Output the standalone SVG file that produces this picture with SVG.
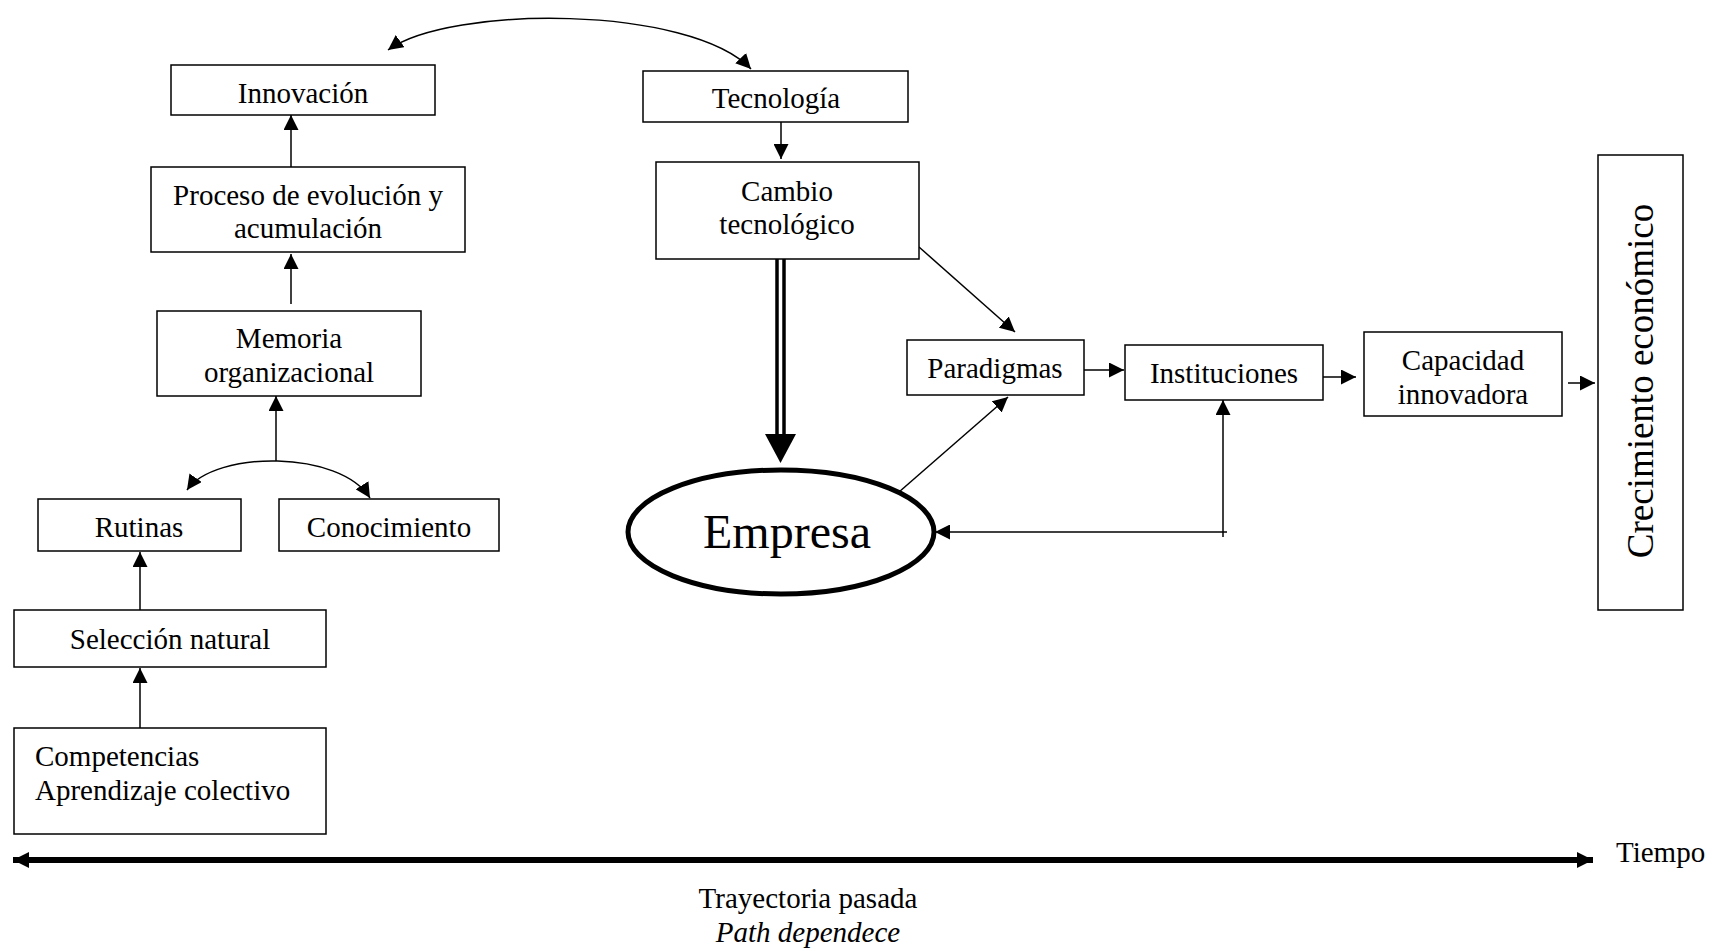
<svg xmlns="http://www.w3.org/2000/svg" width="1727" height="951" viewBox="0 0 1727 951">
<defs>
<style>
.box{fill:#fff;stroke:#000;stroke-width:1.5}
.t{font-family:"Liberation Serif","Times New Roman",serif;font-size:29px;fill:#000;text-anchor:middle}
.ln{fill:none;stroke:#000;stroke-width:1.5}
</style>
<marker id="ah" viewBox="0 0 10 10" refX="10" refY="5" markerWidth="15" markerHeight="15" markerUnits="userSpaceOnUse" orient="auto-start-reverse"><path d="M0,0 L10,5 L0,10 z" fill="#000"/></marker>
<marker id="ahT" viewBox="0 0 10 10" refX="10" refY="5" markerWidth="17" markerHeight="16" markerUnits="userSpaceOnUse" orient="auto-start-reverse"><path d="M0,0 L10,5 L0,10 z" fill="#000"/></marker>
</defs>
<rect width="1727" height="951" fill="#fff"/>

<g id="connectors">
<path class="ln" d="M388,50 C450,5 690,5 751,69" marker-start="url(#ah)" marker-end="url(#ah)"/>
<line class="ln" x1="291" y1="167" x2="291" y2="115" marker-end="url(#ah)"/>
<line class="ln" x1="291" y1="304" x2="291" y2="254" marker-end="url(#ah)"/>
<line class="ln" x1="276" y1="461" x2="276" y2="396" marker-end="url(#ah)"/>
<path class="ln" d="M187,490 C215,450 340,450 370,498" marker-start="url(#ah)" marker-end="url(#ah)"/>
<line class="ln" x1="140" y1="610" x2="140" y2="552" marker-end="url(#ah)"/>
<line class="ln" x1="140" y1="728" x2="140" y2="668" marker-end="url(#ah)"/>
<line class="ln" x1="781" y1="122" x2="781" y2="159" marker-end="url(#ah)"/>
<line x1="777" y1="259" x2="777" y2="437" stroke="#000" stroke-width="3.5"/>
<line x1="784" y1="259" x2="784" y2="437" stroke="#000" stroke-width="3.5"/>
<polygon points="765,434 796,434 780.5,463" fill="#000"/>
<line class="ln" x1="919" y1="247" x2="1015" y2="332" marker-end="url(#ah)"/>
<line class="ln" x1="899" y1="492" x2="1008" y2="397" marker-end="url(#ah)"/>
<line class="ln" x1="1084" y1="370" x2="1124" y2="370" marker-end="url(#ah)"/>
<line class="ln" x1="1223" y1="537" x2="1223" y2="400" marker-end="url(#ah)"/>
<line class="ln" x1="1227" y1="532" x2="935" y2="532" marker-end="url(#ah)"/>
<line class="ln" x1="1323" y1="377" x2="1356" y2="377" marker-end="url(#ah)"/>
<line class="ln" x1="1568" y1="383" x2="1595" y2="383" marker-end="url(#ah)"/>
<line x1="13" y1="860" x2="1593" y2="860" stroke="#000" stroke-width="6" marker-start="url(#ahT)" marker-end="url(#ahT)"/>
</g>

<g id="innovacion"><rect class="box" x="171" y="65" width="264" height="50"/><text class="t" x="303" y="103">Innovación</text></g>
<g id="proceso"><rect class="box" x="151" y="167" width="314" height="85"/><text class="t" x="308" y="205">Proceso de evolución y</text><text class="t" x="308" y="238">acumulación</text></g>
<g id="memoria"><rect class="box" x="157" y="311" width="264" height="85"/><text class="t" x="289" y="348">Memoria</text><text class="t" x="289" y="382">organizacional</text></g>
<g id="rutinas"><rect class="box" x="38" y="499" width="203" height="52"/><text class="t" x="139" y="537">Rutinas</text></g>
<g id="conocimiento"><rect class="box" x="279" y="499" width="220" height="52"/><text class="t" x="389" y="537">Conocimiento</text></g>
<g id="seleccion"><rect class="box" x="14" y="610" width="312" height="57"/><text class="t" x="170" y="649">Selección natural</text></g>
<g id="competencias"><rect class="box" x="14" y="728" width="312" height="106"/><text class="t" x="35" y="766" style="text-anchor:start">Competencias</text><text class="t" x="35" y="800" style="text-anchor:start">Aprendizaje colectivo</text></g>
<g id="tecnologia"><rect class="box" x="643" y="71" width="265" height="51"/><text class="t" x="776" y="108">Tecnología</text></g>
<g id="cambio"><rect class="box" x="656" y="162" width="263" height="97"/><text class="t" x="787" y="201">Cambio</text><text class="t" x="787" y="234">tecnológico</text></g>
<g id="empresa"><ellipse cx="781" cy="532" rx="153" ry="62" fill="#fff" stroke="#000" stroke-width="5"/><text class="t" x="787" y="548" style="font-size:48px">Empresa</text></g>
<g id="paradigmas"><rect class="box" x="907" y="340" width="177" height="55"/><text class="t" x="995" y="378">Paradigmas</text></g>
<g id="instituciones"><rect class="box" x="1125" y="345" width="198" height="55"/><text class="t" x="1224" y="383">Instituciones</text></g>
<g id="capacidad"><rect class="box" x="1364" y="332" width="198" height="84"/><text class="t" x="1463" y="370">Capacidad</text><text class="t" x="1463" y="404">innovadora</text></g>
<g id="crecimiento"><rect class="box" x="1598" y="155" width="85" height="455"/><text class="t" transform="translate(1653,381) rotate(-90)" x="0" y="0" style="font-size:37px">Crecimiento económico</text></g>

<g id="labels">
<text class="t" x="1616" y="862" style="text-anchor:start">Tiempo</text>
<text class="t" x="808" y="908">Trayectoria pasada</text>
<text class="t" x="808" y="942" style="font-style:italic">Path dependece</text>
</g>
</svg>
